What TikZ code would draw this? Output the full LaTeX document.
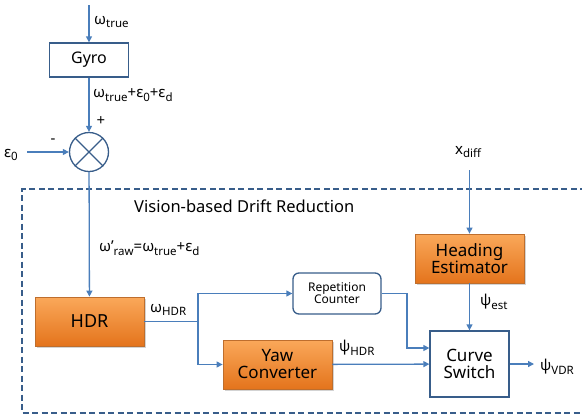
\documentclass[tikz,border=0pt]{standalone}
\usepackage{fontspec}
\setmainfont{Noto Sans}
\usetikzlibrary{arrows.meta,positioning,shapes,shadows}

\definecolor{flowblue}{RGB}{74,126,187}
\definecolor{boxblue}{RGB}{56,93,138}
\definecolor{orangetop}{RGB}{250,168,90}
\definecolor{orangebot}{RGB}{228,116,28}
\definecolor{orangeline}{RGB}{190,110,45}

\newcommand{\fsz}[1]{\fontsize{#1}{#1}\selectfont}
\newcommand{\sbs}[1]{\raisebox{-0.45ex}{\fsz{11.5}#1}}

\begin{document}
\begin{tikzpicture}[x=1pt,y=-1pt,
    line/.style={draw=flowblue,line width=1.3pt},
    arr/.style={line,-{Triangle[length=6pt,width=6pt]}},
    plainbox/.style={draw=boxblue,line width=1.3pt,fill=white,align=center},
    orangebox/.style={draw=orangeline,line width=.8pt,top color=orangetop,bottom color=orangebot,
        align=center,minimum width=109pt,minimum height=49pt,font=\fsz{17},
        drop shadow={opacity=.35,shadow xshift=1.5pt,shadow yshift=-1.5pt}},
    lbl/.style={font=\fsz{15},inner sep=0pt}]
    \useasboundingbox (0,0) rectangle (582,416);

    % frame
    \draw[boxblue,line width=1.3pt,dash pattern=on 6pt off 3.5pt] (586,189) -- (22,189) -- (22,413) -- (586,413);
    \node[anchor=west,font=\fsz{16.5},inner sep=0pt] (vdrtitle) at (134,206) {Vision-based Drift Reduction};

    % blocks
    \node[plainbox,minimum width=79pt,minimum height=34pt,font=\fsz{16}] (gyro) at (89,60) {Gyro};
    \node[circle,draw=boxblue,line width=1.3pt,minimum size=39pt,inner sep=0pt] (sum) at (89,152) {};
    \draw[boxblue,line width=1.3pt] (sum.north west) -- (sum.south east) (sum.north east) -- (sum.south west);

    \node[orangebox,font=\fsz{18}] (hdr) at (89.5,321.5) {HDR};
    \node[orangebox] (yawconv) at (277.5,364.5) {Yaw\\Converter};
    \node[orangebox] (heading) at (469.5,258.5) {Heading\\Estimator};
    \node[plainbox,rounded corners=6pt,minimum width=88pt,minimum height=41pt,font=\fsz{12}] (repcount) at (337,293.5) {Repetition\\Counter};
    \node[plainbox,minimum width=79pt,minimum height=66pt,font=\fsz{17}] (curvesw) at (469.5,364) {Curve\\Switch};

    % free ends
    \coordinate (gyroin) at (89,5);
    \coordinate (epsin) at (27,152);
    \coordinate (xin) at (469.5,170);
    \coordinate (vdrout) at (534,364);
    \coordinate (split) at (198,321.5);
    \coordinate (rcbend) at (407,348);

    % labels
    \node[lbl,anchor=west] (wtrue) at (94,22) {ω\sbs{true}};
    \node[lbl,anchor=west] (wgyro) at (93,95) {ω\sbs{true}+ε\sbs{0}+ε\sbs{d}};
    \node[lbl] (plus) at (101,121) {+};
    \node[lbl] (minus) at (53,141) {-};
    \node[lbl,anchor=west] (eps) at (4,155) {ε\sbs{0}};
    \node[lbl,anchor=west] (wraw) at (99,248) {ω’\sbs{raw}=ω\sbs{true}+ε\sbs{d}};
    \node[lbl,anchor=west] (whdr) at (150,310) {ω\sbs{HDR}};
    \node[lbl,anchor=west] (psihdr) at (339,348) {ψ\sbs{HDR}};
    \node[lbl,anchor=west] (psiest) at (480,302) {ψ\sbs{est}};
    \node[lbl,anchor=west] (xdiff) at (455,152) {x\sbs{diff}};
    \node[lbl,anchor=west] (psivdr) at (540,367) {ψ\sbs{VDR}};

    % connectors
    \foreach \from/\to in {gyroin/gyro,gyro/sum,epsin/sum,xin/heading,heading/curvesw,yawconv/curvesw,curvesw/vdrout}
    \draw[arr] (\from)--(\to);
    \draw[arr] (sum) -- (hdr);
    \draw[line] (hdr.east) -- (split);
    \draw[arr] (split) |- (repcount.west);
    \draw[arr] (split) |- (yawconv.west);
    \draw[arr] (repcount.east) -| (rcbend) -- (rcbend -| curvesw.west);
\end{tikzpicture}
\end{document}
